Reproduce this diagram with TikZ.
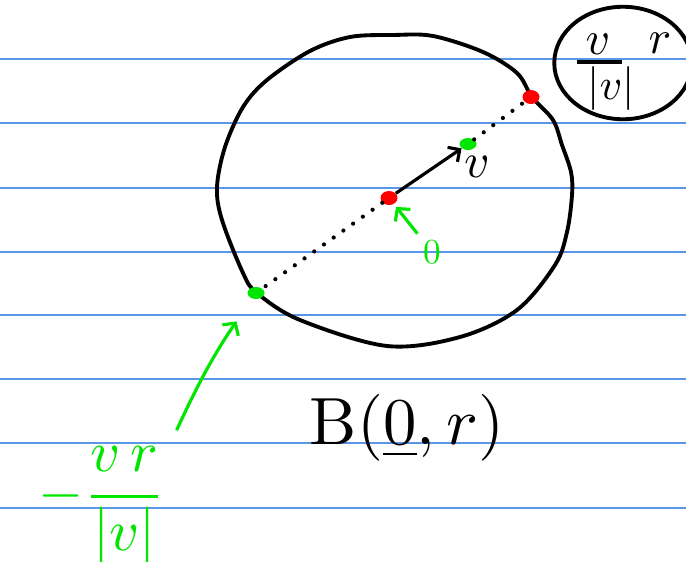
\documentclass[tikz,border=0pt]{standalone}
\usetikzlibrary{arrows.meta,shapes.geometric}
\definecolor{paperblue}{RGB}{90,150,230}
\definecolor{penred}{RGB}{255,0,0}
\definecolor{pengreen}{RGB}{0,230,0}
\begin{document}
\begin{tikzpicture}[
  x=0.02cm,
  y=-0.02cm,
  ruled/.style={paperblue, line width=0.8pt},
  pen/.style={black, line width=2.2pt, line join=round},
  reddot/.style={ellipse, fill=penred, inner sep=0pt, minimum width=0.34cm, minimum height=0.28cm},
  greendot/.style={ellipse, fill=pengreen, inner sep=0pt, minimum width=0.34cm, minimum height=0.24cm},
  trail/.style={black, line width=2.4pt, line cap=round, dash pattern=on 0pt off 6.8pt},
  vec/.style={black, line width=1.8pt, -{Straight Barb[length=5pt,width=10pt]}},
  hint/.style={pengreen, line width=1.8pt, -{Straight Barb[length=5pt,width=11pt]}},
  hand/.style={scale=3.8, inner sep=1pt},
  note/.style={scale=2.7, inner sep=0pt},
]
  \useasboundingbox (0,0) rectangle (686,561);

  % ruled paper
  \foreach \y in {59,123,188,252,315,379,443,508} {
    \draw[ruled] (0,\y) -- (686,\y);
  }

  % the ball
  \draw[pen] plot[smooth cycle, tension=0.55] coordinates {
    (393,35) (433,36) (483,52) (517,73) (532,97) (553,120) (562,145)
    (571,172) (572,195) (567,232) (555,265) (517,310) (460,337) (387,346)
    (300,320) (257,293) (243,273) (222,220) (217,187) (225,147) (243,107)
    (267,80) (310,51) (350,37)};

  % points
  \node[reddot] (o) at (389,198) {};
  \node[greendot] (vtip) at (468,144) {};
  \node[reddot] (top) at (531,97) {};
  \node[greendot] (bot) at (256,293) {};

  \draw[trail] (o) -- (bot);
  \draw[trail] (vtip) -- (top);
  \draw[vec] (o) -- (vtip);

  \node[scale=2.8, inner sep=1pt] (vlabel) at (477,167) {$v$};

  % origin
  \node[text=pengreen, scale=2.0, inner sep=1pt] (zero) at (432,252) {$0$};
  \draw[hint, shorten <=2pt, shorten >=2pt] (zero) -- (o);

  % antipodal point
  \node[text=pengreen, scale=3.3, inner sep=1pt] (neg) at (102,506) {$\displaystyle-\frac{v\,r}{|v|}$};
  \draw[hint, shorten <=6pt, shorten >=0.55cm] (neg.north east) to[bend left=5] (bot);

  % scaled vector
  \node[draw, ellipse, line width=2.2pt, inner sep=0pt, minimum width=2.75cm, minimum height=2.25cm] (scaled) at (623,63) {};
  \node[note] (numer) at (598,44) {$v$};
  \node[note, scale=2.5/2.7] (denom) at (611,89) {$|v|$};
  \node[note] (radius) at (660,43) {$r$};
  \draw[pen] (numer.south) ++(-21,7) -- ++(45,0);

  \node[hand] (ball) at (407,428) {$\mathrm{B}(\underline{0},r)$};
\end{tikzpicture}
\end{document}
